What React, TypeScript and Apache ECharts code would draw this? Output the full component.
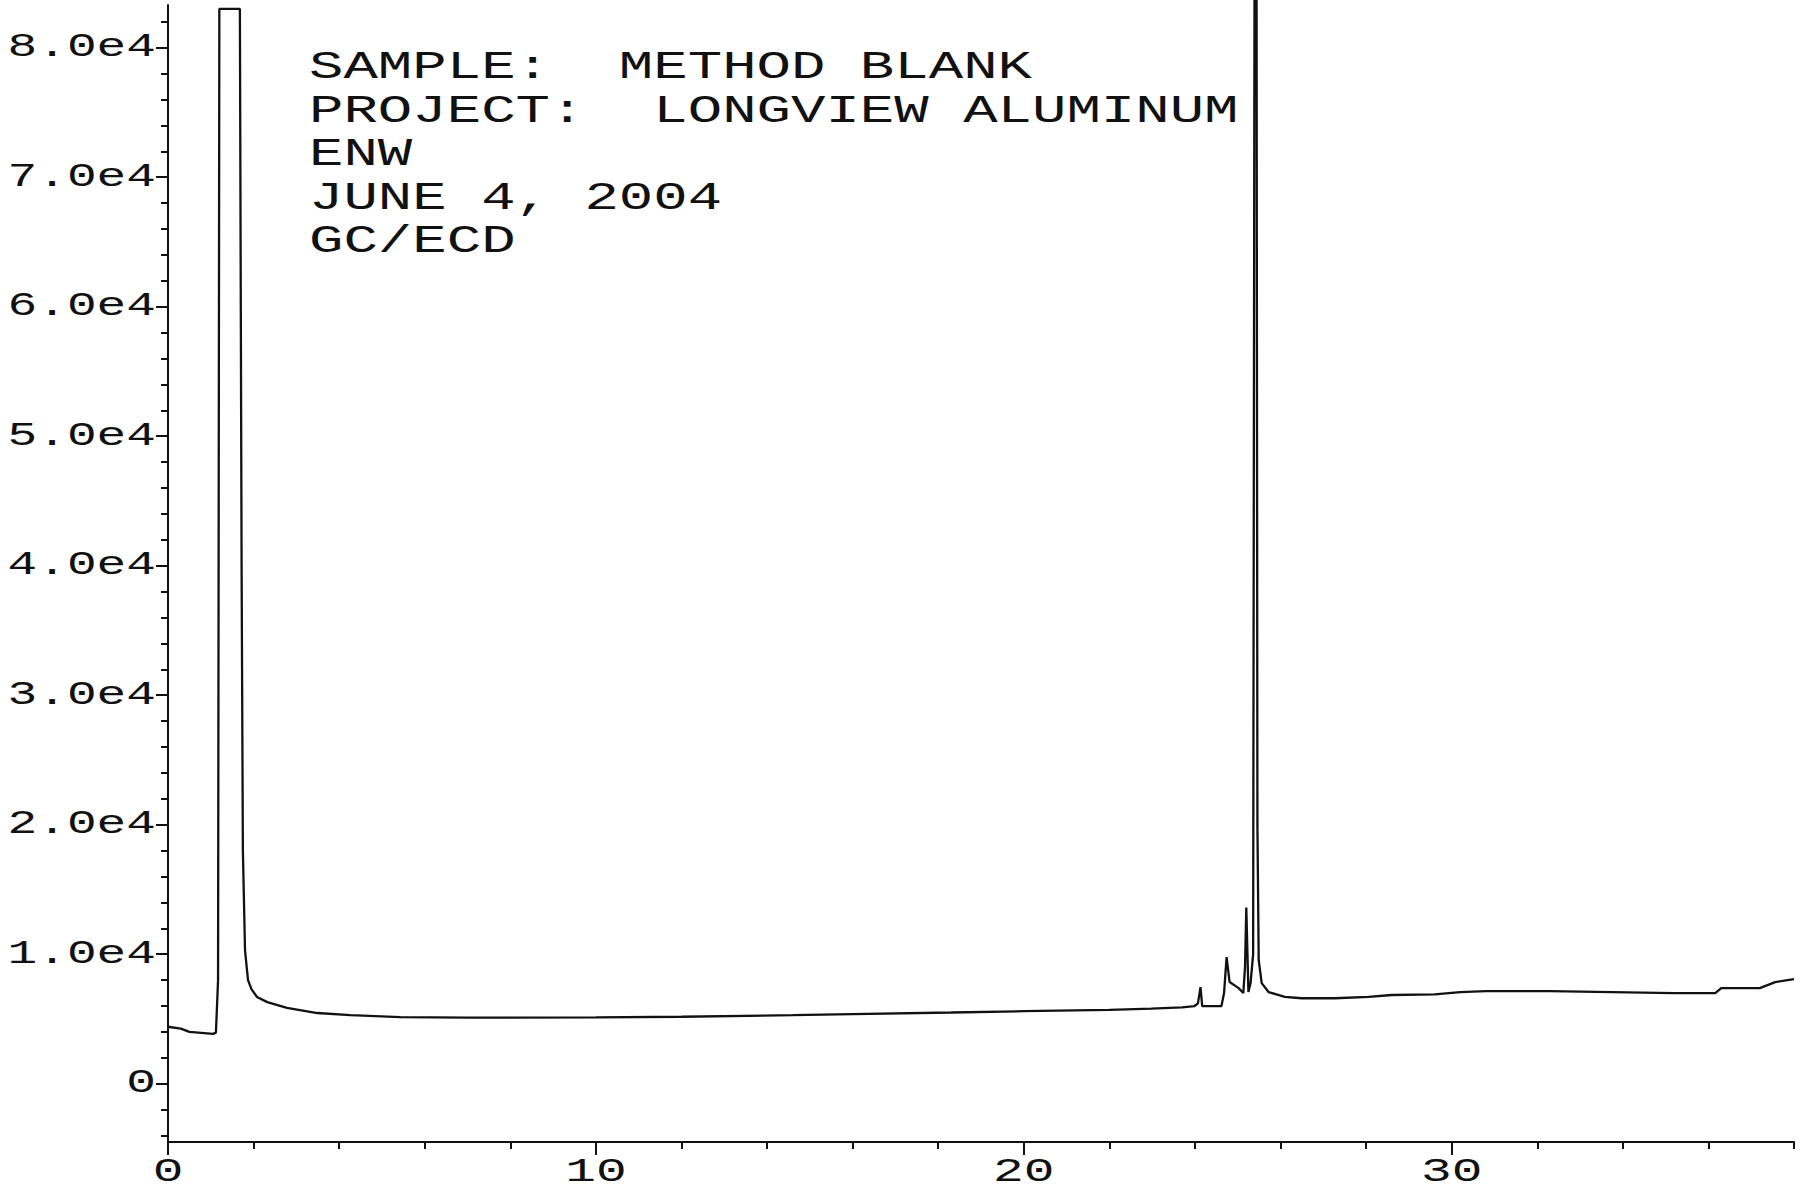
import React, { useEffect, useRef } from "react";
import * as echarts from "echarts";

// Retention time (min) and detector response
const retentionTimes = [
  0, 0.3, 0.5, 1.05, 1.12, 1.17, 1.2, 1.68, 1.72, 1.75, 1.8, 1.87, 1.95, 2.08, 2.32, 2.78,
  3.49, 4.26, 5.43, 7.0, 10.0, 12.0, 14.6, 16.0, 18.3, 20.0, 22.0, 22.98, 23.7, 23.99,
  24.07, 24.13, 24.17, 24.62, 24.68, 24.74, 24.81, 25.02, 25.13, 25.17, 25.2, 25.25, 25.3,
  25.36, 25.42, 25.46, 25.49, 25.56, 25.72, 26.1, 26.49, 27.27, 28.06, 28.6, 29.6, 30.2,
  30.8, 32.3, 35.2, 36.16, 36.3, 37.2, 37.56, 38.0,
];
const intensities = [
  4400, 4250, 4000, 3850, 3950, 8000, 83000, 83000, 40000, 18000, 10300, 8000, 7300, 6700, 6300, 5850,
  5460, 5300, 5150, 5100, 5120, 5170, 5300, 5380, 5500, 5600, 5700, 5800, 5900, 6000,
  6200, 7460, 6000, 6000, 7000, 9770, 7850, 7380, 7000, 9000, 13600, 7080, 7770,
  10000, 150000, 20000, 9540, 7770, 7080, 6700, 6600, 6600, 6700, 6850, 6900, 7080,
  7150, 7150, 7000, 7000, 7380, 7380, 7850, 8080,
];

const xMajorTicks = [0, 10, 20, 30];
const xTickLabels = ["0", "10", "20", "30"];
const xMinorTicks = [2, 4, 6, 8, 12, 14, 16, 18, 22, 24, 26, 28, 32, 34, 36, 38];

const yMajorTicks = [0, 10000, 20000, 30000, 40000, 50000, 60000, 70000, 80000];
const yTickLabels = ["0", "1.0e4", "2.0e4", "3.0e4", "4.0e4", "5.0e4", "6.0e4", "7.0e4", "8.0e4"];
const yMinorTicks = [
  -4000, -2000, 2000, 4000, 6000, 8000, 12000, 14000, 16000, 18000, 22000, 24000, 26000, 28000,
  32000, 34000, 36000, 38000, 42000, 44000, 46000, 48000, 52000, 54000, 56000, 58000,
  62000, 64000, 66000, 68000, 72000, 74000, 76000, 78000, 82000,
];

const headerLines = [
  "SAMPLE:  METHOD BLANK",
  "PROJECT:  LONGVIEW ALUMINUM",
  "ENW",
  "JUNE 4, 2004",
  "GC/ECD",
];

const X_MIN = 0;
const X_MAX = 38;
const Y_MIN = -4500;
const Y_MAX = 83300;

export default function App() {
  const ref = useRef<HTMLDivElement>(null);

  useEffect(() => {
    document.body.style.margin = "0";
    if (!ref.current) return;
    const chart = echarts.init(ref.current, null, { renderer: "svg" });
    const ink = "#111";
    const labelFont = "33px 'Liberation Mono'";
    const axisBase = {
      axisLine: { show: true, onZero: false, lineStyle: { color: ink, width: 2 } },
      splitLine: { show: false },
      axisLabel: { show: false },
    };
    const data = retentionTimes.map((t, i) => [t, intensities[i]]);

    chart.setOption({
      animation: false,
      backgroundColor: "#fff",
      grid: { left: 168, right: 13, top: 5, bottom: 51, containLabel: false },
      xAxis: [
        {
          type: "value",
          position: "bottom",
          min: X_MIN,
          max: X_MAX,
          ...axisBase,
          axisTick: { show: true, length: 13, customValues: xMajorTicks, lineStyle: { color: ink, width: 2 } },
        },
        {
          type: "value",
          position: "bottom",
          min: X_MIN,
          max: X_MAX,
          axisLine: { show: false, onZero: false },
          splitLine: { show: false },
          axisLabel: { show: false },
          axisTick: { show: true, length: 7, customValues: xMinorTicks, lineStyle: { color: ink, width: 2 } },
        },
      ],
      yAxis: [
        {
          type: "value",
          position: "left",
          min: Y_MIN,
          max: Y_MAX,
          ...axisBase,
          axisTick: { show: true, length: 12, customValues: yMajorTicks, lineStyle: { color: ink, width: 2 } },
        },
        {
          type: "value",
          position: "left",
          min: Y_MIN,
          max: Y_MAX,
          axisLine: { show: false, onZero: false },
          splitLine: { show: false },
          axisLabel: { show: false },
          axisTick: { show: true, length: 7, customValues: yMinorTicks, lineStyle: { color: ink, width: 2 } },
        },
      ],
      series: [
        {
          type: "line",
          xAxisIndex: 0,
          yAxisIndex: 0,
          data,
          symbol: "none",
          clip: false,
          lineStyle: { color: ink, width: 2.3 },
        },
      ],
    });

    const axisX = chart.convertToPixel({ xAxisIndex: 0 }, X_MIN) as number;
    const axisY = chart.convertToPixel({ yAxisIndex: 0 }, Y_MIN) as number;

    const yLabels = yMajorTicks.map((v, i) => ({
      type: "text",
      x: axisX - 12,
      y: chart.convertToPixel({ yAxisIndex: 0 }, v) as number,
      scaleX: 1.5,
      style: { text: yTickLabels[i], font: labelFont, fill: ink, align: "right", verticalAlign: "middle" },
    }));
    const xLabels = xMajorTicks.map((v, i) => ({
      type: "text",
      x: chart.convertToPixel({ xAxisIndex: 0 }, v) as number,
      y: axisY + 30,
      scaleX: 1.55,
      style: { text: xTickLabels[i], font: labelFont, fill: ink, align: "center", verticalAlign: "middle" },
    }));
    const header = headerLines.map((line, i) => ({
      type: "text",
      x: 309,
      y: 68 + i * 43.5,
      scaleX: 1.51,
      style: { text: line, font: "38px 'Liberation Mono'", fill: ink, align: "left", verticalAlign: "middle" },
    }));

    chart.setOption({ graphic: [...yLabels, ...xLabels, ...header] });

    return () => chart.dispose();
  }, []);

  return <div ref={ref} style={{ width: 1807, height: 1193 }} />;
}
